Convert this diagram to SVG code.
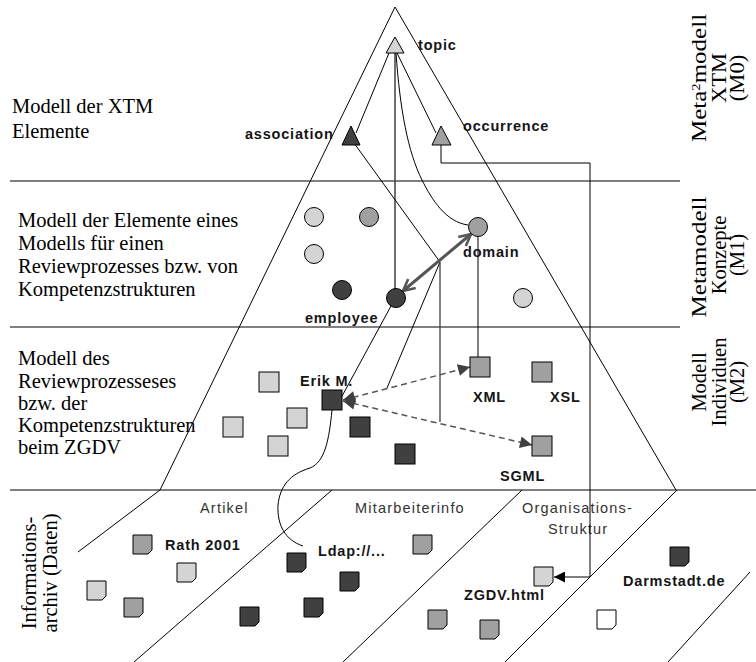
<svg xmlns="http://www.w3.org/2000/svg" width="756" height="662" viewBox="0 0 756 662">
<defs>
<style>
.serif{font-family:"Liberation Serif","Times New Roman",serif;font-size:20.5px;fill:#000}
.lbl{font-family:"Liberation Sans",Arial,sans-serif;font-weight:bold;font-size:14.5px;letter-spacing:0.8px;fill:#151515}
.cat{font-family:"Liberation Sans",Arial,sans-serif;font-size:14.5px;letter-spacing:1.2px;fill:#333}
.ln{stroke:#000;stroke-width:1;fill:none}
.light{fill:#d4d4d4;stroke:#000;stroke-width:1}
.mid{fill:#a0a0a0;stroke:#000;stroke-width:1}
.dark{fill:#404040;stroke:#000;stroke-width:1}
.white{fill:#fff;stroke:#000;stroke-width:1}
.dash{stroke:#555;stroke-width:1.5;stroke-dasharray:6 4;fill:none}
</style>
<marker id="tri" viewBox="0 0 10 10" refX="10" refY="5" markerWidth="14" markerHeight="12" markerUnits="userSpaceOnUse" orient="auto-start-reverse">
<path d="M0,0 L10,5 L0,10 z" fill="#404040"/>
</marker>
<marker id="chev" viewBox="0 0 12 12" refX="11" refY="6" markerWidth="14" markerHeight="14" markerUnits="userSpaceOnUse" orient="auto-start-reverse">
<path d="M1,1 L11,6 L1,11" fill="none" stroke="#555" stroke-width="2.2"/>
</marker>
<marker id="blk" viewBox="0 0 10 10" refX="10" refY="5" markerWidth="12" markerHeight="11" markerUnits="userSpaceOnUse" orient="auto">
<path d="M0,0 L10,5 L0,10 z" fill="#000"/>
</marker>
</defs>
<rect width="756" height="662" fill="#fff"/>

<g id="frame" class="ln">
<polyline points="160,490 395,7 676,490"/>
<line x1="10" y1="181" x2="680" y2="181"/>
<line x1="10" y1="327" x2="680" y2="327"/>
<line x1="10" y1="490" x2="756" y2="490"/>
<line x1="160" y1="490" x2="78" y2="552"/>
<line x1="332" y1="490" x2="134" y2="662"/>
<line x1="522" y1="490" x2="343" y2="662"/>
<line x1="677" y1="490" x2="505" y2="662"/>
<line x1="750" y1="572" x2="668" y2="662"/>
</g>

<g id="layer-text">
<text class="serif" x="12" y="113">Modell der XTM</text>
<text class="serif" x="12" y="138">Elemente</text>
<text class="serif" x="18" y="227">Modell der Elemente eines</text>
<text class="serif" x="18" y="250">Modells für einen</text>
<text class="serif" x="18" y="273">Reviewprozesses bzw. von</text>
<text class="serif" x="18" y="296">Kompetenzstrukturen</text>
<text class="serif" x="18" y="365">Modell des</text>
<text class="serif" x="18" y="388">Reviewprozesseses</text>
<text class="serif" x="18" y="410">bzw. der</text>
<text class="serif" x="18" y="432">Kompetenzstrukturen</text>
<text class="serif" x="18" y="454">beim ZGDV</text>

<g text-anchor="middle">
<text class="serif" transform="translate(706,78) rotate(-90) scale(1.22,1)">Meta<tspan font-size="12" baseline-shift="super">2</tspan>modell</text>
<text class="serif" transform="translate(726,78) rotate(-90) scale(1.1,1)">XTM</text>
<text class="serif" transform="translate(744,78) rotate(-90) scale(1.1,1)">(M0)</text>
<text class="serif" transform="translate(706,257) rotate(-90) scale(1.22,1)">Metamodell</text>
<text class="serif" transform="translate(726,255) rotate(-90)">Konzepte</text>
<text class="serif" transform="translate(744,255) rotate(-90)">(M1)</text>
<text class="serif" transform="translate(706,382) rotate(-90)">Modell</text>
<text class="serif" transform="translate(726,382) rotate(-90)">Individuen</text>
<text class="serif" transform="translate(744,382) rotate(-90)">(M2)</text>
<text class="serif" transform="translate(36,573) rotate(-90)">Informations-</text>
<text class="serif" transform="translate(57,573) rotate(-90)">archiv (Daten)</text>
</g>

<text class="cat" x="200" y="513">Artikel</text>
<text class="cat" x="355" y="513">Mitarbeiterinfo</text>
<text class="cat" x="522" y="513">Organisations-</text>
<text class="cat" x="548" y="534">Struktur</text>
</g>

<g id="connectors">
<line class="ln" x1="389" y1="53" x2="356" y2="133"/>
<line class="ln" x1="397" y1="53" x2="436" y2="133"/>
<line x1="395" y1="53" x2="395" y2="290" stroke="#404040" stroke-width="1.5"/>
<path class="ln" d="M396,53 C400,110 408,152 422,180 C432,200 446,222 468,225"/>
<line class="ln" x1="354" y1="143" x2="440" y2="262"/>
<line class="ln" x1="440" y1="262" x2="387" y2="388"/>
<line x1="440" y1="262" x2="440" y2="422" stroke="#404040" stroke-width="1.3"/>
<line class="ln" x1="391" y1="306" x2="341" y2="398"/>
<line class="ln" x1="478" y1="236" x2="478" y2="357"/>
<line x1="403" y1="291" x2="471" y2="234" stroke="#555" stroke-width="3" marker-start="url(#chev)" marker-end="url(#chev)"/>
<line class="dash" x1="343" y1="400" x2="470" y2="367" marker-start="url(#tri)" marker-end="url(#tri)"/>
<line class="dash" x1="343" y1="401" x2="532" y2="445" marker-start="url(#tri)" marker-end="url(#tri)"/>
<path class="ln" d="M332,410 C329,440 325,462 310,468 C290,474 280,486 278,505 C277,525 285,540 303,546"/>
<path class="ln" d="M441,145 V163 H590 V577 H554" marker-end="url(#blk)"/>
</g>

<g id="topic"><polygon class="light" points="395,37 386,53 404,53"/><text class="lbl" x="418" y="50">topic</text></g>
<g id="association"><polygon class="dark" points="351,126 342,145 360,145"/><text class="lbl" x="245" y="139">association</text></g>
<g id="occurrence"><polygon class="mid" points="441,126 432,145 451,145"/><text class="lbl" x="463" y="131">occurrence</text></g>

<g id="c1"><circle class="light" cx="314" cy="217" r="9.5"/></g>
<g id="c2"><circle class="mid" cx="369" cy="217" r="9.5"/></g>
<g id="c3"><circle class="light" cx="314" cy="254" r="9.5"/></g>
<g id="c4"><circle class="dark" cx="342" cy="290" r="9.5"/></g>
<g id="employee"><circle class="dark" cx="396" cy="298" r="9.5"/><text class="lbl" x="305" y="323">employee</text></g>
<g id="domain"><circle class="mid" cx="478" cy="227" r="9.5"/><text class="lbl" x="463" y="257">domain</text></g>
<g id="c7"><circle class="light" cx="523" cy="298" r="9.5"/></g>

<g id="s1"><rect class="light" x="259" y="372" width="20" height="20"/></g>
<g id="erik"><rect class="dark" x="322" y="390" width="20" height="20"/><text class="lbl" x="300" y="386">Erik M.</text></g>
<g id="s3"><rect class="light" x="287" y="408" width="20" height="20"/></g>
<g id="s4"><rect class="light" x="223" y="417" width="20" height="20"/></g>
<g id="s5"><rect class="light" x="268" y="436" width="20" height="20"/></g>
<g id="s6"><rect class="dark" x="350" y="417" width="20" height="20"/></g>
<g id="s7"><rect class="dark" x="395" y="444" width="20" height="20"/></g>
<g id="xml"><rect class="mid" x="470" y="357" width="20" height="20"/><text class="lbl" x="473" y="402">XML</text></g>
<g id="xsl"><rect class="mid" x="532" y="362" width="20" height="20"/><text class="lbl" x="550" y="402">XSL</text></g>
<g id="sgml"><rect class="mid" x="532" y="436" width="20" height="20"/><text class="lbl" x="500" y="481">SGML</text></g>

<g id="d-rath"><path class="mid" d="M133,535 h19 v15 l-4,4 h-15 z"/><text class="lbl" x="165" y="550">Rath 2001</text></g>
<g id="d2"><path class="light" d="M177,563 h19 v15 l-4,4 h-15 z"/></g>
<g id="d3"><path class="light" d="M87,581 h19 v15 l-4,4 h-15 z"/></g>
<g id="d4"><path class="mid" d="M124,598 h19 v15 l-4,4 h-15 z"/></g>
<g id="d-ldap"><path class="dark" d="M287,553 h19 v15 l-4,4 h-15 z"/><text class="lbl" x="318" y="556">Ldap://...</text></g>
<g id="d6"><path class="dark" d="M340,572 h19 v15 l-4,4 h-15 z"/></g>
<g id="d7"><path class="dark" d="M240,607 h19 v15 l-4,4 h-15 z"/></g>
<g id="d8"><path class="dark" d="M304,598 h19 v15 l-4,4 h-15 z"/></g>
<g id="d9"><path class="mid" d="M413,535 h19 v15 l-4,4 h-15 z"/></g>
<g id="d-zgdv"><path class="light" d="M534,567 h19 v15 l-4,4 h-15 z"/><text class="lbl" x="464" y="600">ZGDV.html</text></g>
<g id="d11"><path class="mid" d="M428,610 h19 v15 l-4,4 h-15 z"/></g>
<g id="d12"><path class="mid" d="M480,620 h19 v15 l-4,4 h-15 z"/></g>
<g id="d13"><path class="white" d="M597,610 h19 v15 l-4,4 h-15 z"/></g>
<g id="d-darmstadt"><path class="dark" d="M670,547 h19 v15 l-4,4 h-15 z"/><text class="lbl" x="623" y="586">Darmstadt.de</text></g>
</svg>
